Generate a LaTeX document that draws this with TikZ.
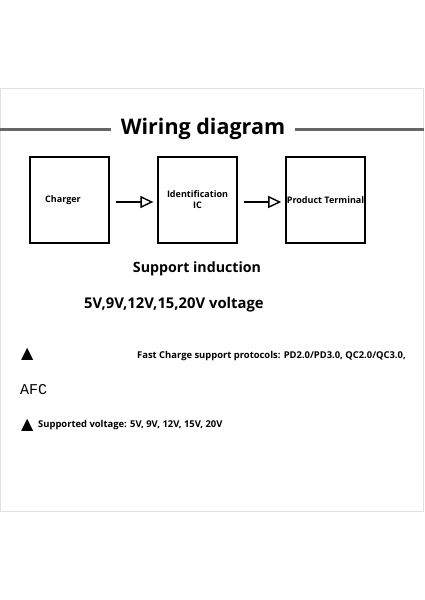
\documentclass[tikz,border=0pt]{standalone}
\usepackage{fontspec}
\setmainfont{Open Sans}
\newfontfamily\symfont{DejaVu Sans}
\newfontfamily\afcfont{Liberation Mono}
\usetikzlibrary{arrows.meta}

\begin{document}
\begin{tikzpicture}[x=1pt, y=-1pt,
    block/.style={draw=black, line width=1.3pt, minimum width=79pt,
        minimum height=86pt, inner sep=1pt, font=\fontsize{9}{11}\selectfont\bfseries},
    flow/.style={line width=2.6pt, -{Triangle[open, length=13pt, width=12pt, line width=1.4pt]},
        shorten <=6pt, shorten >=4pt},
    rule/.style={line width=3pt, draw=black!60},
    txt/.style={inner sep=0pt, anchor=west}
]
    \useasboundingbox (0,0) rectangle (424,600);
    % panel
    \draw[black!12, line width=0.8pt] (0.5,88) rectangle (423,511);
    % title
    \node[inner sep=0pt, font=\fontsize{21.5}{24}\selectfont\bfseries] (title) at (203,129) {Wiring diagram};
    \draw[rule] (0,129) -- ([xshift=-10pt]title.west |- 0,129);
    \draw[rule] ([xshift=10pt]title.east |- 0,129) -- (424,129);
    % blocks
    \node[block] (charger) at (69.5,200) {Charger\kern13pt};
    \node[block, align=center] (identic) at (197.5,200) {Identification\\IC};
    \node[block] (terminal) at (325.5,200) {Product Terminal};
    \draw[flow] (charger.east |- 0,202) -- (identic.west |- 0,202);
    \draw[flow] (identic.east |- 0,202) -- (terminal.west |- 0,202);
    % notes
    \node[inner sep=0pt, font=\fontsize{14.2}{16}\selectfont\bfseries] (induction) at (197,269) {Support induction};
    \node[txt, font=\fontsize{14.8}{18}\selectfont\bfseries] (volts) at (84,305) {5V,9V,12V,15,20V voltage};
    \node[txt, font=\fontsize{16}{16}\selectfont\symfont] (tri1) at (21,354) {▲};
    \node[txt, font=\fontsize{9.4}{11}\selectfont\bfseries] (protocols) at (137,356) {Fast Charge support protocols: PD2.0/PD3.0, QC2.0/QC3.0,};
    \node[txt, font=\fontsize{15}{16}\selectfont\afcfont] (afc) at (20,390) {AFC};
    \node[txt, font=\fontsize{16}{16}\selectfont\symfont] (tri2) at (21,425) {▲};
    \node[txt, font=\fontsize{9.4}{11}\selectfont\bfseries] (supported) at (38,425) {Supported voltage: 5V, 9V, 12V, 15V, 20V};
\end{tikzpicture}
\end{document}
